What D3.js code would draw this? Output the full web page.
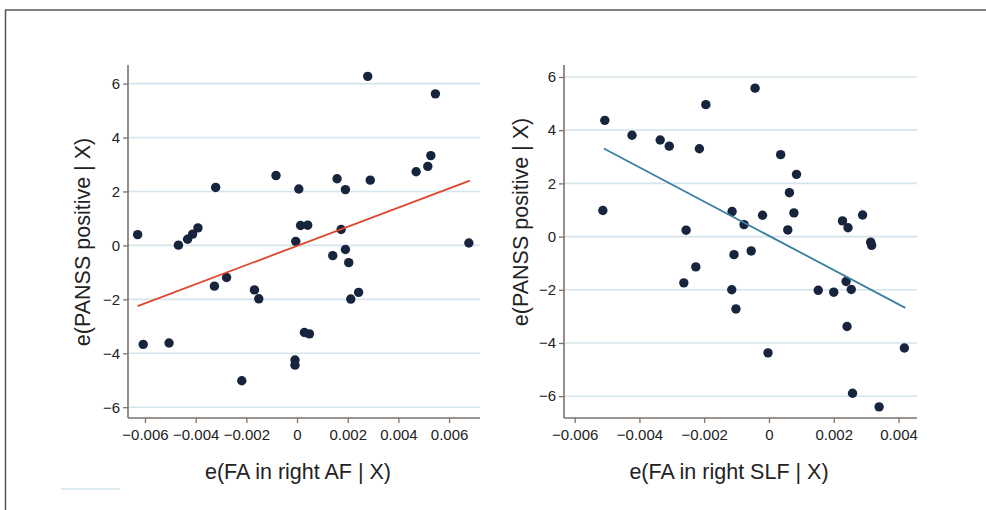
<!DOCTYPE html>
<html>
<head>
<meta charset="utf-8">
<script src="https://cdn.jsdelivr.net/npm/d3@7"></script>
<style>
  body { margin: 0; background: #fff; }
  svg text { font-family: "Liberation Sans", Arial, sans-serif; fill: #222; }
</style>
</head>
<body>
<div id="chart"></div>
<script>
// left panel: e(FA in right AF | X) vs e(PANSS positive | X)
var afX = [-0.00629, -0.00607, -0.00505, -0.00468, -0.00432, -0.00412, -0.00391, -0.00321, -0.00326, -0.00278,
           -0.00218, -0.00168, -0.00151, -0.00083, -0.00008, -0.00008, -0.00005, 0.00007, 0.00014, 0.00042,
           0.00029, 0.00049, 0.00141, 0.00158, 0.00174, 0.00191, 0.00191, 0.00204, 0.00212, 0.00243,
           0.00279, 0.00289, 0.00470, 0.00516, 0.00528, 0.00546, 0.00678];
var afY = [0.40, -3.67, -3.62, 0.01, 0.23, 0.42, 0.65, 2.15, -1.51, -1.19,
           -5.02, -1.65, -1.98, 2.59, -4.25, -4.44, 0.15, 2.09, 0.74, 0.75,
           -3.23, -3.28, -0.38, 2.47, 0.59, 2.07, -0.15, -0.64, -1.99, -1.74,
           6.27, 2.42, 2.73, 2.93, 3.33, 5.62, 0.09];
var afFit = [[-0.00629, -2.25], [0.00682, 2.40]];

// right panel: e(FA in right SLF | X) vs e(PANSS positive | X)
var slfX = [-0.00507, -0.00513, -0.00423, -0.00336, -0.00308, -0.00215, -0.00195, -0.00256, -0.00263, -0.00226,
            -0.00114, -0.00108, -0.00115, -0.00102, -0.00077, -0.00055, -0.00043, -0.00020, -0.00003, 0.00036,
            0.00058, 0.00063, 0.00077, 0.00085, 0.00152, 0.00200, 0.00227, 0.00244, 0.00238, 0.00254,
            0.00241, 0.00289, 0.00314, 0.00317, 0.00258, 0.00340, 0.00418];
var slfY = [4.37, 0.98, 3.81, 3.63, 3.40, 3.30, 4.96, 0.24, -1.74, -1.14,
            0.94, -0.68, -2.00, -2.72, 0.45, -0.54, 5.58, 0.80, -4.37, 3.08,
            0.25, 1.65, 0.89, 2.34, -2.02, -2.09, 0.59, 0.33, -1.69, -1.99,
            -3.38, 0.81, -0.21, -0.33, -5.89, -6.40, -4.19];
var slfFit = [[-0.00510, 3.31], [0.00421, -2.68]];

var yTicks = [-6, -4, -2, 0, 2, 4, 6];
var afTicks = [-0.006, -0.004, -0.002, 0, 0.002, 0.004, 0.006];
var slfTicks = [-0.006, -0.004, -0.002, 0, 0.002, 0.004];

var W = 986, H = 510;
var dotColor = "#16243d", axisColor = "#7b726b", gridColor = "#d6e4eb";

var svg = d3.select("#chart").append("svg")
    .attr("width", W).attr("height", H);

// figure frame (top and left edges only)
svg.append("line").attr("x1", 5).attr("x2", W).attr("y1", 10).attr("y2", 10)
    .attr("stroke", "#555").attr("stroke-width", 1.5);
svg.append("line").attr("x1", 5.5).attr("x2", 5.5).attr("y1", 10).attr("y2", H)
    .attr("stroke", "#555").attr("stroke-width", 1.5);
svg.append("line").attr("x1", 61).attr("x2", 120).attr("y1", 489).attr("y2", 489)
    .attr("stroke", "#dcebf2").attr("stroke-width", 2);

function fmtX(d) {
  if (d === 0) return "0";
  return (d < 0 ? "\u2212" : "") + Math.abs(d).toFixed(3);
}
function fmtY(d) {
  return (d < 0 ? "\u2212" : "") + Math.abs(d);
}

function panel(p) {
  var x = d3.scaleLinear().domain(p.xDom).range([p.left, p.right]);
  var y = d3.scaleLinear().domain(p.yDom).range([p.bottom, p.top]);
  var g = svg.append("g");

  // grid
  g.selectAll(".grid").data(yTicks).enter().append("line")
    .attr("x1", p.left).attr("x2", p.right)
    .attr("y1", function(d) { return y(d); }).attr("y2", function(d) { return y(d); })
    .attr("stroke", gridColor).attr("stroke-width", 1.6);

  // axes
  var ya = g.append("g").attr("transform", "translate(" + p.left + ",0)")
    .call(d3.axisLeft(y).tickValues(yTicks).tickFormat(fmtY).tickSize(5).tickPadding(3));
  var xa = g.append("g").attr("transform", "translate(0," + p.bottom + ")")
    .call(d3.axisBottom(x).tickValues(p.xTicks).tickFormat(fmtX).tickSize(5).tickPadding(6));
  [ya, xa].forEach(function(a) {
    a.select(".domain").attr("stroke", axisColor).attr("stroke-width", 1.6);
    a.selectAll(".tick line").attr("stroke", axisColor).attr("stroke-width", 1.3);
    a.selectAll(".tick text").attr("font-size", 15).style("fill", "#222");
  });
  ya.select(".domain").attr("d", "M0," + p.top + "V" + p.bottom);
  xa.select(".domain").attr("d", "M" + p.left + ",0H" + p.right);

  // points
  g.selectAll(".dot").data(p.xs).enter().append("circle")
    .attr("cx", function(d) { return x(d); })
    .attr("cy", function(d, i) { return y(p.ys[i]); })
    .attr("r", 4.7).attr("fill", dotColor);

  // fitted line
  g.append("path").datum(p.fit)
    .attr("d", d3.line().x(function(d) { return x(d[0]); }).y(function(d) { return y(d[1]); }))
    .attr("stroke", p.lineColor).attr("stroke-width", 1.8).attr("fill", "none");

  // titles
  g.append("text").attr("x", p.xTitleX).attr("y", 479).attr("text-anchor", "middle")
    .attr("font-size", 21.5).text(p.xTitle);
  g.append("text").attr("transform", "translate(" + p.yTitleX + "," + p.yTitleY + ") rotate(-90)")
    .attr("text-anchor", "middle").attr("font-size", 21.5).text("e(PANSS positive | X)");
}

panel({
  left: 128, right: 480, top: 65, bottom: 418,
  xDom: [-0.00667, 0.00722], yDom: [-6.40, 6.69],
  xTicks: afTicks, xs: afX, ys: afY, fit: afFit, lineColor: "#e0462d",
  xTitle: "e(FA in right AF | X)", xTitleX: 298, yTitleX: 90, yTitleY: 242
});
panel({
  left: 564, right: 917, top: 65, bottom: 418,
  xDom: [-0.00633, 0.00457], yDom: [-6.82, 6.45],
  xTicks: slfTicks, xs: slfX, ys: slfY, fit: slfFit, lineColor: "#3a7fa3",
  xTitle: "e(FA in right SLF | X)", xTitleX: 729, yTitleX: 528, yTitleY: 222
});
</script>
</body>
</html>
